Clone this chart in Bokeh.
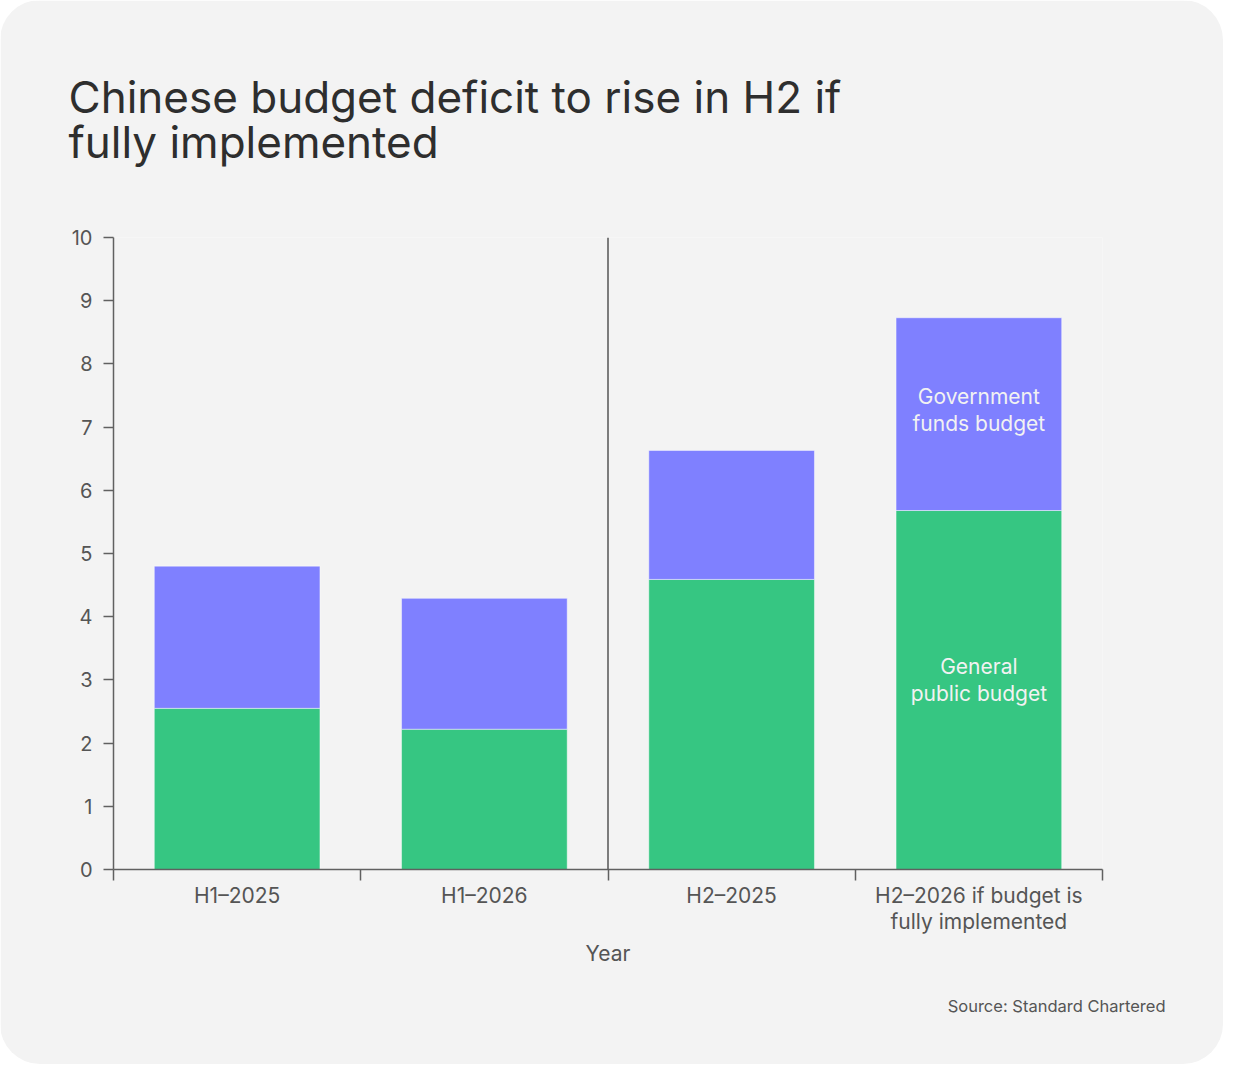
from bokeh.plotting import figure
from bokeh.models import Range1d, FixedTicker, Span, Title, ColumnDataSource
from bokeh.core.properties import value
from bokeh.embed import file_html
from bokeh.resources import INLINE

categories = ["H1–2025", "H1–2026", "H2–2025", "H2–2026 if budget is\nfully implemented"]
general_public = [2.55, 2.22, 4.59, 5.68]
government_funds = [2.25, 2.07, 2.04, 3.05]
y_ticks = [0, 1, 2, 3, 4, 5, 6, 7, 8, 9, 10]

FONT = "Inter"
BG = "#f3f3f3"
GREEN = "#36c682"
BLUE = "#7f80ff"
AXIS = "#606060"

x_pos = [i + 0.5 for i in range(len(categories))]
src = ColumnDataSource(dict(x=x_pos, general=general_public, funds=government_funds))

p = figure(width=1223, height=1064, output_backend="svg", toolbar_location=None,
           x_range=Range1d(0, len(categories)), y_range=Range1d(0, 10),
           min_border_left=113, min_border_right=121, min_border_top=237, min_border_bottom=195)
p.styles = {"border-radius": "40px", "overflow": "hidden"}
p.background_fill_color = BG
p.border_fill_color = BG
p.outline_line_color = None
p.grid.visible = False

p.vbar_stack(["general", "funds"], x="x", width=0.67, source=src,
             color=[GREEN, BLUE], line_color="rgba(255,255,255,0.45)", line_width=1)

# in-bar labels on last bar
last = len(categories) - 1
p.text(x=[x_pos[last], x_pos[last]],
       y=[general_public[last] / 2 + 0.16, general_public[last] + government_funds[last] / 2 + 0.06],
       text=["General\npublic budget", "Government\nfunds budget"],
       text_font=value(FONT), text_font_size="21px", text_color="#f2f2f2",
       text_align="center", text_baseline="middle", text_line_height=1.08)

# divider
p.add_layout(Span(location=2, dimension="height", line_color="#555555", line_width=1.5))

# y axis
ya = p.yaxis[0]
ya.ticker = FixedTicker(ticks=y_ticks)
ya.axis_line_color = AXIS
ya.axis_line_width = 1.5
ya.major_tick_line_color = AXIS
ya.major_tick_line_width = 1.5
ya.major_tick_out = 10
ya.major_tick_in = 0
ya.minor_tick_line_color = None
ya.major_label_text_font = FONT
ya.major_label_text_font_size = "20px"
ya.major_label_text_color = "#555555"
ya.major_label_standoff = 11

# x axis
xa = p.xaxis[0]
xa.ticker = FixedTicker(ticks=x_pos, minor_ticks=list(range(len(categories) + 1)))
xa.major_label_overrides = {x: c for x, c in zip(x_pos, categories)}
xa.axis_line_color = AXIS
xa.axis_line_width = 1.5
xa.major_tick_line_color = None
xa.minor_tick_line_color = AXIS
xa.minor_tick_line_width = 1.5
xa.minor_tick_out = 11
xa.minor_tick_in = 0
xa.major_label_text_font = FONT
xa.major_label_text_font_size = "21px"
xa.major_label_text_color = "#555555"
xa.major_label_text_line_height = 1.05
xa.major_label_standoff = 2
xa.axis_label = "Year"
xa.axis_label_text_font = FONT
xa.axis_label_text_font_size = "21px"
xa.axis_label_text_font_style = "normal"
xa.axis_label_text_color = "#555555"
xa.axis_label_standoff = 4

# source (below axis)
p.add_layout(Title(text="Source: Standard Chartered", align="right", offset=-63, standoff=51,
                   text_font=FONT, text_font_size="16.5px", text_font_style="normal",
                   text_color="#555555"), "below")

# title (two lines)
p.add_layout(Title(text="Chinese budget deficit to rise in H2 if\nfully implemented",
                   align="left", vertical_align="top", offset=-45, standoff=132,
                   text_line_height=0.85,
                   text_font=FONT, text_font_size="44px", text_font_style="normal",
                   text_color="#2e2e2e"), "above")

open("out.html", "w").write(file_html(p, INLINE))
